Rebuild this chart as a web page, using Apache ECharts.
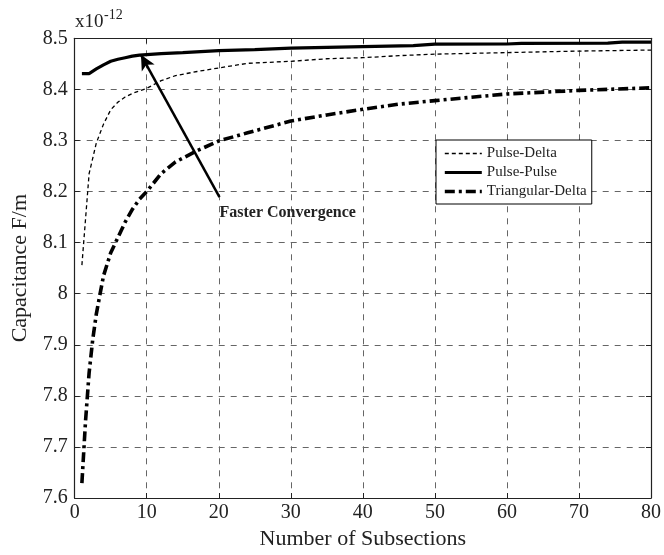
<!DOCTYPE html>
<html>
<head>
<meta charset="utf-8">
<script src="https://cdn.jsdelivr.net/npm/echarts@6/dist/echarts.min.js"></script>
<style>
html,body{margin:0;padding:0;background:#fff;}
#chart{width:664px;height:555px;}
</style>
</head>
<body>
<div id="chart"></div>
<script>
// ---- data ----
const seriesNames = ['Pulse-Delta', 'Pulse-Pulse', 'Triangular-Delta'];
const pdX = [1,2,3,4,5,6,7,8,9,10,12,14,17,20,24,30,35,40,45,50,60,70,80];
const pdY = [8.056,8.235,8.295,8.332,8.36,8.375,8.385,8.392,8.397,8.402,8.417,8.427,8.435,8.442,8.451,8.455,8.46,8.462,8.466,8.469,8.472,8.475,8.477];
const ppX = [1,2,3,4,5,6,7,8,9,10,12,15,20,25,30,40,47,50,60,62,74,76,80];
const ppY = [8.431,8.431,8.44,8.448,8.455,8.459,8.462,8.465,8.467,8.468,8.470,8.472,8.476,8.478,8.4806,8.4837,8.4857,8.4885,8.4888,8.490,8.4905,8.4925,8.4925];
const tdX = [1,1.5,2,2.5,3,3.5,4,5,6,7,8,9,10,12,14,17,20,24,30,35,40,45,50,60,70,80];
const tdY = [7.629,7.75,7.845,7.91,7.96,7.998,8.035,8.08,8.11,8.14,8.165,8.185,8.2,8.235,8.258,8.28,8.299,8.315,8.338,8.35,8.361,8.371,8.378,8.391,8.398,8.403];
const annotationText = 'Faster Convergence';
const arrowFrom = [20.1, 8.189];
const arrowTo = [9.2, 8.4676];
const scaleText = 'x10';
const scaleExp = '-12';

const zip = (xs, ys) => xs.map((x, i) => [x, ys[i]]);
const FONT = '"Liberation Serif", "DejaVu Serif", serif';

const lineStyles = [
  {color: '#000', width: 1.3, type: [4, 3]},
  {color: '#000', width: 3.2, type: 'solid'},
  {color: '#000', width: 3.6, type: [10, 4, 3, 4]}
];

const chart = echarts.init(document.getElementById('chart'), null, {renderer: 'canvas'});

const gridStyle = {show: true, lineStyle: {color: '#666', width: 1, type: [6, 6]}};

chart.setOption({
  animation: false,
  backgroundColor: '#fff',
  textStyle: {fontFamily: FONT},
  grid: {left: 74.7, right: 5.3, top: 38.3, bottom: 53.7, containLabel: false},
  legend: {
    orient: 'vertical',
    left: 436, top: 140,
    data: seriesNames.map((n, i) => ({name: n, lineStyle: lineStyles[i]})),
    backgroundColor: '#fff',
    borderColor: '#000', borderWidth: 1,
    padding: [6, 5, 5, 7],
    itemGap: 4, itemWidth: 37, itemHeight: 15,
    itemStyle: {opacity: 0, borderWidth: 0, color: 'rgba(0,0,0,0)'},
    textStyle: {fontFamily: FONT, fontSize: 15, color: '#222'}
  },
  graphic: [
    {type: 'text', left: 75, top: 13, style: {text: scaleText, font: '19px ' + FONT, fill: '#222'}},
    {type: 'text', left: 104, top: 8, style: {text: scaleExp, font: '14px ' + FONT, fill: '#222'}}
  ],
  xAxis: [{
    type: 'value', min: 0, max: 80, interval: 10,
    name: 'Number of Subsections', nameLocation: 'middle', nameGap: 30,
    nameTextStyle: {fontFamily: FONT, fontSize: 22, color: '#222'},
    axisLine: {show: true, onZero: false, lineStyle: {color: '#222', width: 1.2}},
    axisTick: {show: true, inside: true, length: 5, lineStyle: {color: '#222'}},
    axisLabel: {fontFamily: FONT, fontSize: 20, color: '#222', margin: 5},
    splitLine: gridStyle
  }, {
    type: 'value', position: 'top', min: 0, max: 80, interval: 10,
    axisLine: {show: true, onZero: false, lineStyle: {color: '#222', width: 1.2}},
    axisTick: {show: true, inside: true, length: 5, lineStyle: {color: '#222'}},
    axisLabel: {show: false}, splitLine: {show: false}
  }],
  yAxis: [{
    type: 'value', min: 7.6, max: 8.5, interval: 0.1,
    name: 'Capacitance F/m', nameLocation: 'middle', nameGap: 43,
    nameTextStyle: {fontFamily: FONT, fontSize: 22, color: '#222'},
    axisLine: {show: true, onZero: false, lineStyle: {color: '#222', width: 1.2}},
    axisTick: {show: true, inside: true, length: 5, lineStyle: {color: '#222'}},
    axisLabel: {fontFamily: FONT, fontSize: 20, color: '#222', margin: 7,
      formatter: v => String(+v.toFixed(1))},
    splitLine: gridStyle
  }, {
    type: 'value', position: 'right', min: 7.6, max: 8.5, interval: 0.1,
    axisLine: {show: true, onZero: false, lineStyle: {color: '#222', width: 1.2}},
    axisTick: {show: true, inside: true, length: 5, lineStyle: {color: '#222'}},
    axisLabel: {show: false}, splitLine: {show: false}
  }],
  series: [
    {
      name: seriesNames[0], type: 'line', data: zip(pdX, pdY),
      symbol: 'none', color: '#000',
      lineStyle: lineStyles[0]
    },
    {
      name: seriesNames[1], type: 'line', data: zip(ppX, ppY),
      symbol: 'none', color: '#000',
      lineStyle: lineStyles[1],
      markLine: {
        silent: true, animation: false,
        symbol: ['none', 'arrow'], symbolSize: [11, 15],
        label: {show: false},
        lineStyle: {color: '#000', width: 2.5, type: 'solid'},
        data: [[{coord: arrowFrom}, {coord: arrowTo}]]
      },
      markPoint: {
        silent: true, animation: false,
        data: [{
          coord: [arrowFrom[0], 8.159], symbol: 'circle', symbolSize: 0,
          label: {show: true, formatter: annotationText, position: 'right', distance: 0,
            fontFamily: FONT, fontSize: 16, fontWeight: 'bold', color: '#222'}
        }]
      }
    },
    {
      name: seriesNames[2], type: 'line', data: zip(tdX, tdY),
      symbol: 'none', color: '#000',
      lineStyle: lineStyles[2]
    }
  ]
});
</script>
</body>
</html>
